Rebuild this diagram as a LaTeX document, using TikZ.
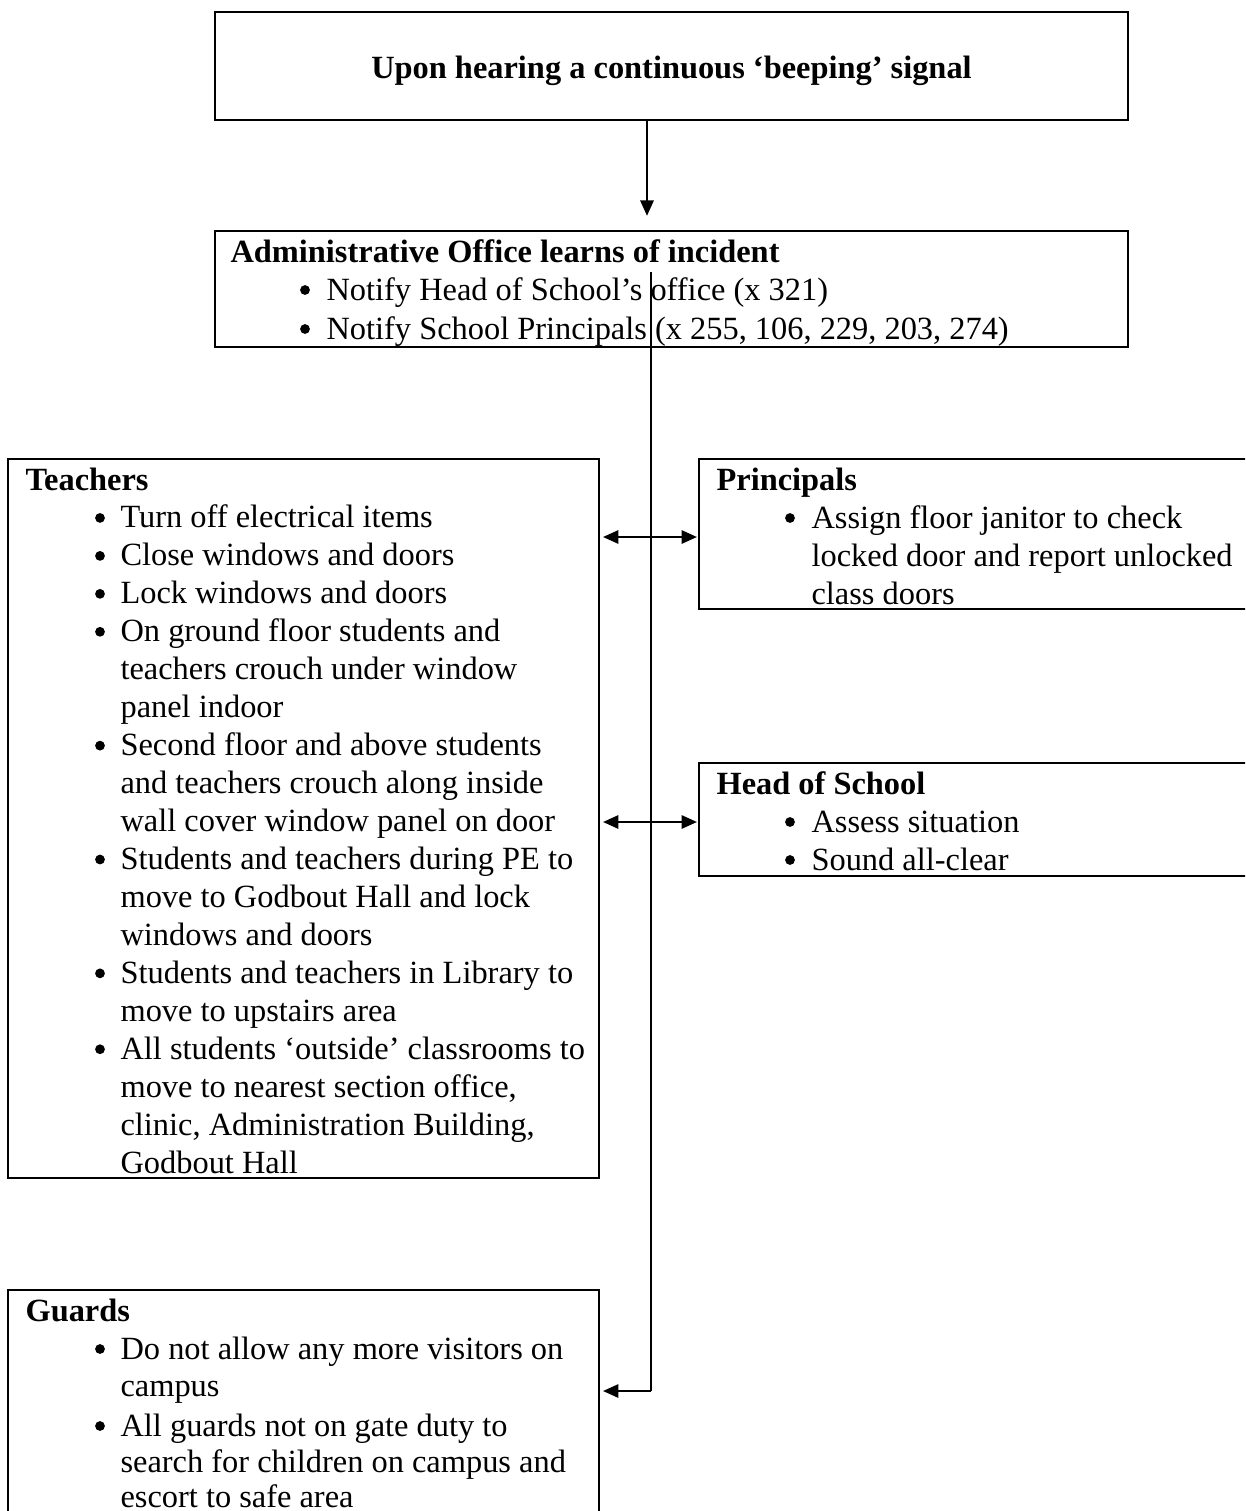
\documentclass[tikz,border=0pt]{standalone}
\usepackage{fontspec}
\setmainfont{Liberation Serif}
\usetikzlibrary{arrows.meta,fit}

% a framed box spanning two corners, given in picture units
\newcommand\mkbox[5]{%
  \coordinate (#1-a) at (#2,#3);
  \coordinate (#1-b) at (#4,#5);
  \node[box, fit=(#1-a)(#1-b)] (#1) {};}

\begin{document}
\begin{tikzpicture}[x=0.358pt,y=-0.358pt,
  box/.style={draw, line width=0.9pt, inner sep=0pt},
  conn/.style={line width=0.65pt},
  tipend/.style={-{Triangle[length=5.5pt,width=4.8pt]}},
  tipboth/.style={{Triangle[length=5.5pt,width=4.8pt]}-{Triangle[length=5.5pt,width=4.8pt]}},
  ln/.style={anchor=base west, inner sep=0pt, font=\fontsize{11.6}{13.8}\selectfont},
  hd/.style={ln, font=\fontsize{11.6}{13.8}\selectfont\bfseries},
  dot/.style={circle, fill, inner sep=0pt, minimum size=3.5pt}]

\clip (0,0) rectangle (1245,1511);

% boxes
\mkbox{signal}{215}{12}{1128}{120}
\mkbox{admin}{215}{231}{1128}{347}
\mkbox{teachers}{8}{459}{599}{1178}
\mkbox{principals}{699}{459}{1262}{609}
\mkbox{head}{699}{763}{1262}{876}
\mkbox{guards}{8}{1290}{599}{1530}

% title
\node[hd, anchor=base] (title) at (671.5,78) {Upon hearing a continuous ‘beeping’ signal};

% administrative office
\node[hd] (adminh) at (230,262) {Administrative Office learns of incident};
\node[dot] (adminb1) at (305,290) {};
\node[ln] (admint1) at (326,300) {Notify Head of School’s office (x 321)};
\node[dot] (adminb2) at (305,329) {};
\node[ln] (admint2) at (326,339) {Notify School Principals (x 255, 106, 229, 203, 274)};

% teachers
\node[hd] (teachh) at (25,490) {Teachers};
\foreach \i/\b/\t in {
  1/1/{Turn off electrical items},
  2/1/{Close windows and doors},
  3/1/{Lock windows and doors},
  4/1/{On ground floor students and},
  5/0/{teachers crouch under window},
  6/0/{panel indoor},
  7/1/{Second floor and above students},
  8/0/{and teachers crouch along inside},
  9/0/{wall cover window panel on door},
  10/1/{Students and teachers during PE to},
  11/0/{move to Godbout Hall and lock},
  12/0/{windows and doors},
  13/1/{Students and teachers in Library to},
  14/0/{move to upstairs area},
  15/1/{All students ‘outside’ classrooms to},
  16/0/{move to nearest section office,},
  17/0/{clinic, Administration Building,},
  18/0/{Godbout Hall}}{
  \node[ln] (teacht\i) at (120,{490+37.95*\i}) {\t};
  \ifnum\b=1 \node[dot] (teachb\i) at (100,{480+37.95*\i}) {};\fi
}

% principals
\node[hd] (prinh) at (716,490) {Principals};
\node[dot] (prinb1) at (790,518) {};
\node[ln] (print1) at (811,528) {Assign floor janitor to check};
\node[ln] (print2) at (811,566) {locked door and report unlocked};
\node[ln] (print3) at (811,604) {class doors};

% head of school
\node[hd] (headh) at (716,794) {Head of School};
\node[dot] (headb1) at (790,822) {};
\node[ln] (headt1) at (811,832) {Assess situation};
\node[dot] (headb2) at (790,860) {};
\node[ln] (headt2) at (811,870) {Sound all-clear};

% guards
\node[hd] (guardh) at (25,1321) {Guards};
\node[dot] (guardb1) at (100,1349) {};
\node[ln] (guardt1) at (120,1359) {Do not allow any more visitors on};
\node[ln] (guardt2) at (120,1396) {campus};
\node[dot] (guardb3) at (100,1426) {};
\node[ln] (guardt3) at (120,1436) {All guards not on gate duty to};
\node[ln] (guardt4) at (120,1472) {search for children on campus and};
\node[ln] (guardt5) at (120,1507) {escort to safe area};

% connectors
\coordinate (ax) at (647,0);
\draw[conn, tipend, shorten >=5pt] (signal.south -| ax) -- (admin.north -| ax);

\coordinate (trunkTop) at (651,272);
\coordinate (trunkBend) at (651,1391);
\draw[conn] (trunkTop) -- (trunkBend);
\draw[conn, tipend, shorten >=1pt] (trunkBend) -- (guards.east |- trunkBend);

\coordinate (rowA) at (0,537);
\coordinate (rowB) at (0,822);
\draw[conn, tipboth, shorten <=1pt, shorten >=0.3pt] (teachers.east |- rowA) -- (principals.west |- rowA);
\draw[conn, tipboth, shorten <=1pt, shorten >=0.3pt] (teachers.east |- rowB) -- (head.west |- rowB);
\end{tikzpicture}
\end{document}
